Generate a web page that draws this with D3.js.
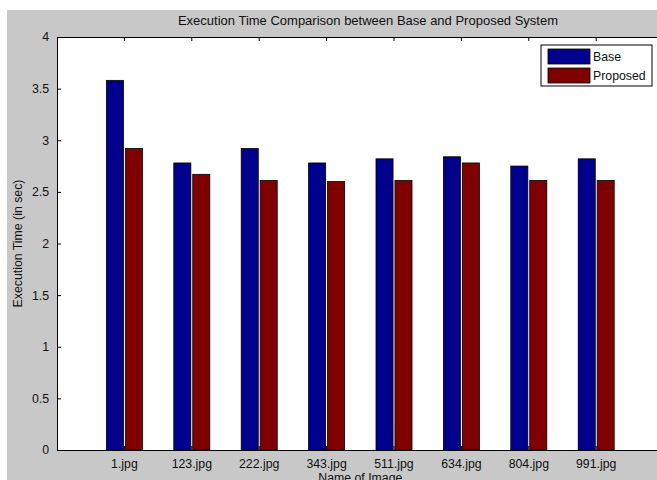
<!DOCTYPE html>
<html>
<head>
<meta charset="utf-8">
<script src="https://cdn.jsdelivr.net/npm/d3@7/dist/d3.min.js"></script>
<style>
  body { margin: 0; background: #fff; }
  svg { display: block; font-family: "Liberation Sans", Arial, sans-serif; }
</style>
</head>
<body>
<svg id="chart" width="657" height="480"></svg>
<script>
const categories = ["1.jpg", "123.jpg", "222.jpg", "343.jpg", "511.jpg", "634.jpg", "804.jpg", "991.jpg"];
const seriesNames = ["Base", "Proposed"];
const baseValues = [3.58, 2.78, 2.92, 2.78, 2.82, 2.84, 2.75, 2.82];
const proposedValues = [2.92, 2.67, 2.61, 2.60, 2.61, 2.78, 2.61, 2.61];
const yTicks = [0, 0.5, 1, 1.5, 2, 2.5, 3, 3.5, 4];
const colors = ["#00008f", "#800000"];

(function () {
const W = 657, H = 480;
const pLeft = 57, pTop = 37, pBottom = 450;
const step = 67.4;
const pRight = pLeft + step * (categories.length + 1);

const svg = d3.select("#chart");

svg.append("rect").attr("x", 7).attr("y", 10).attr("width", W - 7).attr("height", H - 10).attr("fill", "#c8c8c8");

const x = d3.scaleBand().domain(categories).range([pLeft, pRight]).paddingInner(0).paddingOuter(0.5);
const y = d3.scaleLinear().domain([0, 4]).range([pBottom, pTop]);
const xs = d3.scaleBand().domain(seriesNames).range([-18, 18]).paddingInner(0.1);

const g = svg.append("g");
g.append("rect").attr("x", pLeft).attr("y", pTop).attr("width", pRight - pLeft).attr("height", pBottom - pTop).attr("fill", "#fff");

const series = [baseValues, proposedValues];
series.forEach((vals, si) => {
  g.selectAll(null).data(vals).enter().append("rect")
    .attr("x", (d, i) => x(categories[i]) + x.bandwidth() / 2 + xs(seriesNames[si]))
    .attr("y", d => y(d))
    .attr("width", xs.bandwidth())
    .attr("height", d => y(0) - y(d))
    .attr("fill", colors[si])
    .attr("stroke", "#000")
    .attr("stroke-width", 0.8);
});

const xAxisB = d3.axisBottom(x).tickSizeInner(-4).tickSizeOuter(0).tickPadding(9);
const xAxisT = d3.axisTop(x).tickSizeInner(-4).tickSizeOuter(0).tickFormat("");
const yAxisL = d3.axisLeft(y).tickValues(yTicks).tickSizeInner(-4).tickSizeOuter(0).tickPadding(8).tickFormat(d3.format("~g"));
const yAxisR = d3.axisRight(y).tickValues(yTicks).tickSizeInner(-4).tickSizeOuter(0).tickFormat("");

function styleAxis(sel) {
  sel.selectAll("path").attr("stroke", "#000").attr("stroke-width", 1);
  sel.selectAll("line").attr("stroke", "#000").attr("stroke-width", 1);
  sel.selectAll("text").attr("fill", "#111").style("font-size", "12.3px").style("font-family", "Liberation Sans, Arial, sans-serif");
}
g.append("g").attr("transform", `translate(0,${pBottom})`).call(xAxisB).call(styleAxis);
g.append("g").attr("transform", `translate(0,${pTop})`).call(xAxisT).call(styleAxis);
g.append("g").attr("transform", `translate(${pLeft},0)`).call(yAxisL).call(styleAxis);
g.append("g").attr("transform", `translate(${pRight},0)`).call(yAxisR).call(styleAxis);

svg.append("text").attr("x", 368).attr("y", 25).attr("text-anchor", "middle")
  .style("font-size", "13px").attr("fill", "#111").text("Execution Time Comparison between Base and Proposed System");
svg.append("text").attr("x", (pLeft + pRight) / 2).attr("y", 482).attr("text-anchor", "middle")
  .style("font-size", "12.3px").attr("fill", "#111").text("Name of Image");
svg.append("text").attr("transform", `translate(22,${(pTop + pBottom) / 2}) rotate(-90)`).attr("text-anchor", "middle")
  .style("font-size", "12.3px").attr("fill", "#111").text("Execution Time (in sec)");

const lg = svg.append("g").attr("transform", "translate(541,45)");
lg.append("rect").attr("width", 111).attr("height", 41).attr("fill", "#fff").attr("stroke", "#000");
seriesNames.forEach((n, i) => {
  lg.append("rect").attr("x", 7).attr("y", 4 + i * 19).attr("width", 42).attr("height", 15)
    .attr("fill", colors[i]).attr("stroke", "#000").attr("stroke-width", 0.8);
  lg.append("text").attr("x", 52).attr("y", 16 + i * 19).style("font-size", "12.3px").attr("fill", "#111").text(n);
});
})();
</script>
</body>
</html>
